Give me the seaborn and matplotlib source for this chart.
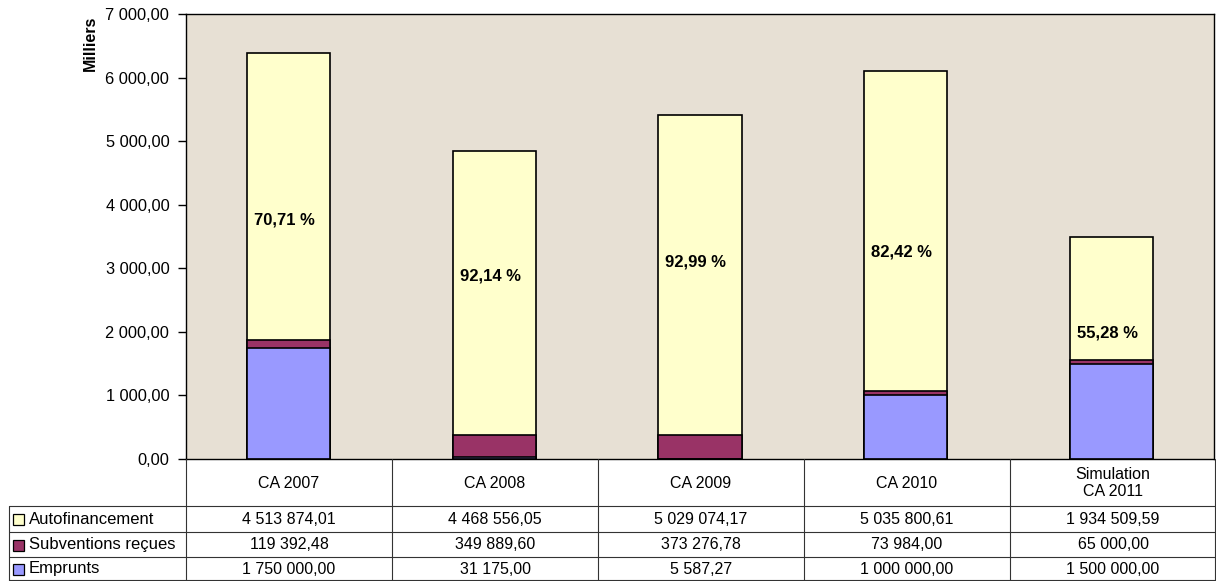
import numpy as np
import pandas as pd
import matplotlib
matplotlib.use("Agg")
import matplotlib.pyplot as plt
import seaborn as sns
from matplotlib.ticker import FuncFormatter
from matplotlib.lines import Line2D
from matplotlib.patches import Rectangle

# data (euros)
categories = ["CA 2007", "CA 2008", "CA 2009", "CA 2010", "Simulation\nCA 2011"]
autofinancement = [4513874.01, 4468556.05, 5029074.17, 5035800.61, 1934509.59]
subventions = [119392.48, 349889.60, 373276.78, 73984.00, 65000.00]
emprunts = [1750000.00, 31175.00, 5587.27, 1000000.00, 1500000.00]
series_names = ["Autofinancement", "Subventions reçues", "Emprunts"]
# height (in thousands) where the percentage labels sit
pct_label_y = [3760, 2880, 3100, 3250, 1980]

colors = {"Autofinancement": "#FFFFCC", "Subventions reçues": "#993366", "Emprunts": "#9999FF"}


def fr_number(v, dec=2):
    s = f"{v:,.{dec}f}"
    return s.replace(",", " ").replace(".", ",")


sns.set_theme(style="white")
plt.rcParams["font.family"] = ["Liberation Sans", "DejaVu Sans"]
plt.rcParams["text.color"] = "black"
plt.rcParams["ytick.color"] = "black"
plt.rcParams["ytick.labelcolor"] = "black"

df = pd.DataFrame({
    "cat": categories,
    "emp": np.array(emprunts) / 1000,
    "sub": np.array(subventions) / 1000,
    "auto": np.array(autofinancement) / 1000,
})
df["lvl2"] = df["emp"] + df["sub"]
df["total"] = df["lvl2"] + df["auto"]

W, H = 1216, 581
fig = plt.figure(figsize=(W / 100, H / 100), dpi=100)
ax_left, ax_right, ax_top, ax_bottom = 186, 1214, 14, 459
ax = fig.add_axes([ax_left / W, 1 - ax_bottom / H, (ax_right - ax_left) / W, (ax_bottom - ax_top) / H])
ax.set_facecolor("#E7E0D4")

# stacked bars: draw cumulative totals from the top down
for col, name in [("total", "Autofinancement"), ("lvl2", "Subventions reçues"), ("emp", "Emprunts")]:
    sns.barplot(data=df, x="cat", y=col, color=colors[name], width=0.405,
                edgecolor="black", linewidth=1.2, saturation=1, ax=ax)

pcts = df["auto"] / df["total"] * 100
for i, (p, y) in enumerate(zip(pcts, pct_label_y)):
    ax.text(i - 0.02, y, fr_number(p) + " %", ha="center", va="center",
            fontsize=12, fontweight="bold", color="black")

ax.set_ylim(0, 7000)
ax.set_xlim(-0.5, len(categories) - 0.5)
ax.set_yticks(np.arange(0, 7001, 1000))
ax.yaxis.set_major_formatter(FuncFormatter(lambda v, _: fr_number(v)))
ax.tick_params(axis="y", which="major", direction="out", length=6, width=1,
               labelsize=11.8, left=True, color="black", labelcolor="black", pad=6)
ax.set_xticks([])
ax.set_xlabel("")
ax.set_ylabel("")
for s in ax.spines.values():
    s.set_visible(True)
    s.set_color("black")
    s.set_linewidth(1)

# table drawn in figure pixels
def fx(px):
    return px / W

def fy(py):
    return 1 - py / H

fig.text(fx(90), fy(16), "Milliers", rotation=90, ha="center", va="top",
         fontsize=11.5, fontweight="bold")

line_kw = dict(color="#333333", linewidth=0.8)
col_edges = np.linspace(ax_left, ax_left + 206 * len(categories), len(categories) + 1)
row_edges = [459, 506, 532, 557, 581]
label_left = 9

# horizontal lines
for r in row_edges[1:-1] + [580]:
    fig.add_artist(Line2D([fx(label_left), fx(W)], [fy(r), fy(r)], **line_kw))
# vertical lines
fig.add_artist(Line2D([fx(label_left), fx(label_left)], [fy(506), fy(581)], **line_kw))
for c in col_edges[:-1]:
    fig.add_artist(Line2D([fx(c), fx(c)], [fy(459), fy(581)], **line_kw))
fig.add_artist(Line2D([fx(W - 1), fx(W - 1)], [fy(459), fy(581)], **line_kw))

# header row
for i, cat in enumerate(categories):
    cx = (col_edges[i] + col_edges[i + 1]) / 2
    fig.text(fx(cx), fy(483), cat, ha="center", va="center", fontsize=11.5, linespacing=1.1)

# value rows
rows = [autofinancement, subventions, emprunts]
for r, (name, vals) in enumerate(zip(series_names, rows)):
    ymid = (row_edges[r + 1] + row_edges[r + 2]) / 2
    fig.add_artist(Rectangle((fx(13), fy(ymid + 6)), 11 / W, 11 / H, transform=fig.transFigure,
                             facecolor=colors[name], edgecolor="black", linewidth=0.9))
    fig.text(fx(29), fy(ymid), name, ha="left", va="center", fontsize=12)
    for i, v in enumerate(vals):
        cx = (col_edges[i] + col_edges[i + 1]) / 2
        fig.text(fx(cx), fy(ymid), fr_number(v), ha="center", va="center", fontsize=11.5)

fig.savefig("out.png", dpi=100, facecolor="white")
